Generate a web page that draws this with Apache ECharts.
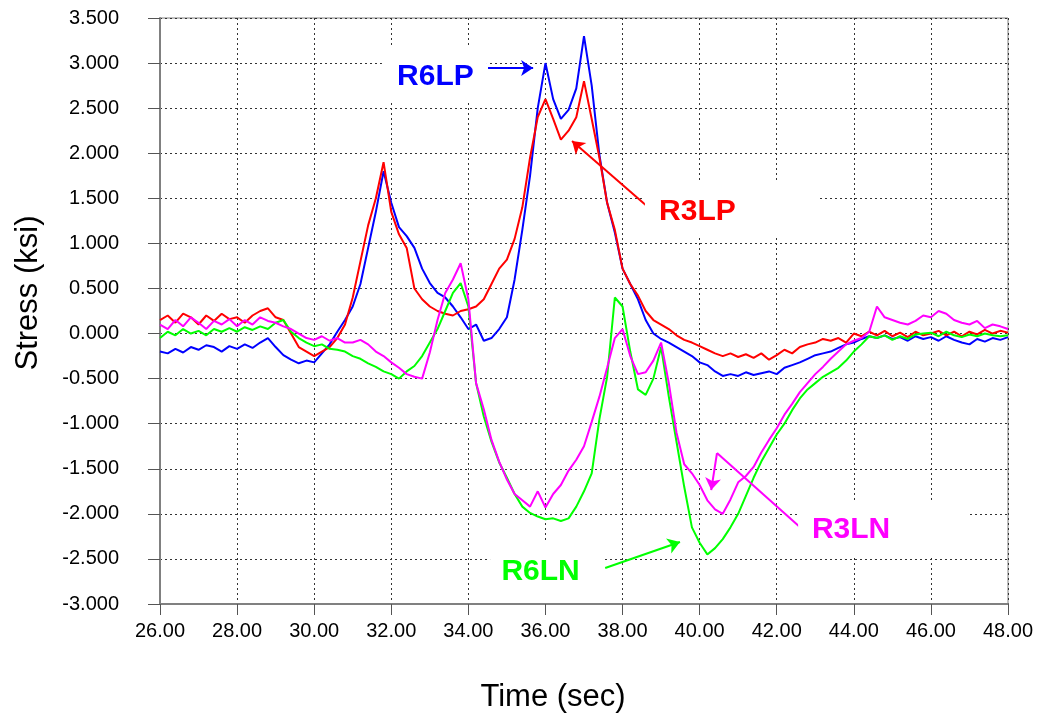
<!DOCTYPE html>
<html>
<head>
<meta charset="utf-8">
<script src="https://cdn.jsdelivr.net/npm/echarts@6/dist/echarts.min.js"></script>
<style>
  html, body { margin: 0; padding: 0; background: #fff; }
  #chart { width: 1039px; height: 715px; }
</style>
</head>
<body>
<div id="chart"></div>
<script>
// Time samples (sec)
const TIME = [
  26.0,26.2,26.4,26.6,26.8, 27.0,27.2,27.4,27.6,27.8,
  28.0,28.2,28.4,28.6,28.8, 29.0,29.2,29.4,29.6,29.8,
  30.0,30.2,30.4,30.6,30.8, 31.0,31.2,31.4,31.6,31.8,
  32.0,32.2,32.4,32.6,32.8, 33.0,33.2,33.4,33.6,33.8,
  34.0,34.2,34.4,34.6,34.8, 35.0,35.2,35.4,35.6,35.8,
  36.0,36.2,36.4,36.6,36.8, 37.0,37.2,37.4,37.6,37.8,
  38.0,38.2,38.4,38.6,38.8, 39.0,39.2,39.4,39.6,39.8,
  40.0,40.2,40.4,40.6,40.8, 41.0,41.2,41.4,41.6,41.8,
  42.0,42.2,42.4,42.6,42.8, 43.0,43.2,43.4,43.6,43.8,
  44.0,44.2,44.4,44.6,44.8, 45.0,45.2,45.4,45.6,45.8,
  46.0,46.2,46.4,46.6,46.8, 47.0,47.2,47.4,47.6,47.8,
  48.0
];

// Stress (ksi)
const R6LP = [
  -0.20,-0.22,-0.17,-0.21,-0.15, -0.18,-0.13,-0.15,-0.20,-0.14,
  -0.17,-0.12,-0.16,-0.10,-0.05, -0.15,-0.24,-0.29,-0.33,-0.30,
  -0.32,-0.22,-0.12,0.02,0.15, 0.30,0.55,0.95,1.35,1.80,
  1.45,1.18,1.08,0.95,0.72, 0.56,0.45,0.40,0.30,0.18,
  0.05,0.10,-0.08,-0.05,0.05, 0.18,0.60,1.15,1.75,2.50,
  3.00,2.60,2.38,2.48,2.72, 3.30,2.75,1.98,1.45,1.12,
  0.72,0.55,0.38,0.15,0.00, -0.06,-0.10,-0.15,-0.20,-0.25,
  -0.32,-0.35,-0.42,-0.47,-0.45, -0.47,-0.43,-0.46,-0.44,-0.42,
  -0.45,-0.38,-0.35,-0.32,-0.28, -0.24,-0.22,-0.20,-0.16,-0.12,
  -0.10,-0.06,-0.03,-0.05,-0.02, -0.06,-0.04,-0.08,-0.03,-0.06,
  -0.04,-0.08,-0.03,-0.07,-0.10, -0.12,-0.06,-0.09,-0.05,-0.07,
  -0.04
];
const R3LP = [
  0.15,0.20,0.12,0.22,0.18, 0.10,0.20,0.14,0.22,0.16,
  0.18,0.12,0.20,0.25,0.28, 0.18,0.15,0.00,-0.15,-0.20,
  -0.25,-0.20,-0.15,-0.05,0.10, 0.40,0.80,1.20,1.50,1.90,
  1.35,1.10,0.95,0.50,0.38, 0.30,0.25,0.22,0.20,0.25,
  0.27,0.30,0.38,0.55,0.72, 0.82,1.05,1.40,1.95,2.40,
  2.60,2.38,2.15,2.25,2.40, 2.80,2.38,1.95,1.45,1.15,
  0.72,0.55,0.42,0.25,0.15, 0.10,0.05,-0.02,-0.07,-0.10,
  -0.14,-0.18,-0.22,-0.25,-0.22, -0.26,-0.23,-0.27,-0.22,-0.29,
  -0.24,-0.18,-0.22,-0.15,-0.12, -0.10,-0.06,-0.08,-0.05,-0.10,
  0.00,-0.03,0.02,-0.02,0.03, -0.03,0.01,-0.04,0.02,-0.02,
  0.00,0.03,-0.02,0.02,-0.03, 0.02,-0.01,0.04,0.00,0.03,
  0.01
];
const R6LN = [
  -0.05,0.02,-0.02,0.05,0.00, 0.03,-0.02,0.05,0.02,0.06,
  0.02,0.07,0.04,0.08,0.05, 0.12,0.15,0.02,-0.05,-0.10,
  -0.14,-0.12,-0.17,-0.18,-0.20, -0.25,-0.28,-0.33,-0.37,-0.42,
  -0.45,-0.50,-0.42,-0.36,-0.25, -0.10,0.05,0.25,0.45,0.56,
  0.30,-0.55,-0.92,-1.20,-1.43, -1.60,-1.78,-1.92,-1.99,-2.03,
  -2.06,-2.05,-2.08,-2.05,-1.92, -1.75,-1.55,-0.95,-0.48,0.40,
  0.30,-0.20,-0.62,-0.68,-0.50, -0.15,-0.70,-1.20,-1.70,-2.15,
  -2.32,-2.45,-2.38,-2.28,-2.15, -2.00,-1.80,-1.60,-1.42,-1.27,
  -1.12,-1.00,-0.85,-0.72,-0.62, -0.55,-0.48,-0.43,-0.38,-0.30,
  -0.20,-0.12,-0.03,-0.05,-0.02, -0.07,-0.03,-0.06,-0.01,0.00,
  0.01,-0.03,0.02,-0.02,-0.04, -0.01,-0.03,0.00,-0.02,-0.03,
  -0.02
];
const R3LN = [
  0.10,0.05,0.15,0.08,0.18, 0.12,0.05,0.14,0.10,0.16,
  0.08,0.15,0.10,0.18,0.14, 0.12,0.08,0.05,0.00,-0.05,
  -0.07,-0.03,-0.08,-0.05,-0.10, -0.10,-0.07,-0.12,-0.20,-0.25,
  -0.32,-0.38,-0.45,-0.48,-0.50, -0.21,0.15,0.45,0.60,0.78,
  0.38,-0.55,-0.84,-1.18,-1.42, -1.62,-1.78,-1.85,-1.92,-1.75,
  -1.93,-1.78,-1.68,-1.52,-1.40, -1.25,-0.98,-0.70,-0.38,-0.05,
  0.05,-0.25,-0.45,-0.43,-0.30, -0.10,-0.55,-1.10,-1.45,-1.55,
  -1.68,-1.85,-1.95,-2.00,-1.84, -1.65,-1.58,-1.48,-1.32,-1.18,
  -1.05,-0.90,-0.78,-0.65,-0.55, -0.45,-0.37,-0.28,-0.20,-0.12,
  -0.08,-0.05,0.02,0.30,0.18, 0.15,0.12,0.10,0.14,0.20,
  0.18,0.25,0.22,0.15,0.12, 0.10,0.14,0.06,0.10,0.08,
  0.05
];

const FONT = '"Liberation Sans", Arial, sans-serif';
const pairs = arr => TIME.map((t, i) => [t, arr[i]]);

function labelBox(coord, size, offset, text, color) {
  return {
    coord: coord,
    symbol: 'rect',
    symbolSize: size,
    itemStyle: { color: '#ffffff' },
    label: {
      show: true, position: 'inside', offset: offset, formatter: text,
      color: color, fontSize: 30, fontWeight: 'bold', fontFamily: FONT
    }
  };
}

function makeSeries(name, arr, color, box, lines) {
  return {
    name: name,
    type: 'line',
    data: pairs(arr),
    showSymbol: false,
    symbol: 'none',
    lineStyle: { color: color, width: 2 },
    itemStyle: { color: color },
    animation: false,
    silent: true,
    markPoint: { silent: true, animation: false, data: [box] },
    markLine: {
      silent: true, animation: false,
      symbol: ['none', 'arrow'], symbolSize: 12,
      lineStyle: { color: color, width: 2, type: 'solid' },
      label: { show: false },
      data: lines
    }
  };
}

const chart = echarts.init(document.getElementById('chart'), null, { renderer: 'canvas' });

chart.setOption({
  backgroundColor: '#ffffff',
  animation: false,
  grid: { left: 160, right: 31, top: 18, bottom: 111, show: true, borderColor: '#808080', borderWidth: 1, backgroundColor: 'transparent' },
  xAxis: {
    type: 'value', min: 26, max: 48, interval: 2,
    axisLine: { show: true, onZero: false, lineStyle: { color: '#808080', width: 2 } },
    axisTick: { show: true, length: 11, lineStyle: { color: '#555', width: 1 } },
    axisLabel: { margin: 17, color: '#000', fontSize: 20, fontFamily: FONT, formatter: v => v.toFixed(2) },
    splitLine: { show: true, lineStyle: { color: '#333', width: 1, type: [2, 3] } }
  },
  yAxis: {
    type: 'value', min: -3, max: 3.5, interval: 0.5,
    axisLine: { show: true, onZero: false, lineStyle: { color: '#808080', width: 2 } },
    axisTick: { show: true, length: 12, lineStyle: { color: '#555', width: 1 } },
    axisLabel: { margin: 41, color: '#000', fontSize: 20, fontFamily: FONT, formatter: v => v.toFixed(3) },
    splitLine: { show: true, lineStyle: { color: '#333', width: 1, type: [2, 3] } }
  },
  graphic: [
    { type: 'text', x: 28, y: 293, rotation: Math.PI / 2,
      style: { text: 'Stress (ksi)', font: '31px ' + FONT, fill: '#000', textAlign: 'center', textVerticalAlign: 'middle' } },
    { type: 'text', x: 553, y: 697,
      style: { text: 'Time (sec)', font: '31px ' + FONT, fill: '#000', textAlign: 'center', textVerticalAlign: 'middle' } }
  ],
  series: [
    makeSeries('R6LP', R6LP, '#0000ff',
      labelBox([33.12, 2.884], [105, 53], [1, 3], 'R6LP', '#0000ff'),
      [[{ coord: [34.51, 2.945] }, { coord: [35.68, 2.945] }]]),
    makeSeries('R3LP', R3LP, '#ff0000',
      labelBox([40.85, 1.381], [175, 52], [-35, 3], 'R3LP', '#ff0000'),
      [[{ coord: [38.66, 1.403] }, { coord: [36.69, 2.135] }]]),
    makeSeries('R6LN', R6LN, '#00ff00',
      labelBox([36.03, -2.623], [113, 60], [-6, 2], 'R6LN', '#00ff00'),
      [[{ coord: [37.55, -2.601] }, { coord: [39.49, -2.313] }]]),
    makeSeries('R3LN', R3LN, '#ff00ff',
      labelBox([44.76, -2.174], [170, 53], [-32, 0], 'R3LN', '#ff00ff'),
      [
        [{ coord: [42.60, -2.146], symbol: 'none' }, { coord: [40.45, -1.326], symbol: 'none' }],
        [{ coord: [40.45, -1.326], symbol: 'none' }, { coord: [40.30, -1.736], symbol: 'arrow' }]
      ])
  ]
});
</script>
</body>
</html>
